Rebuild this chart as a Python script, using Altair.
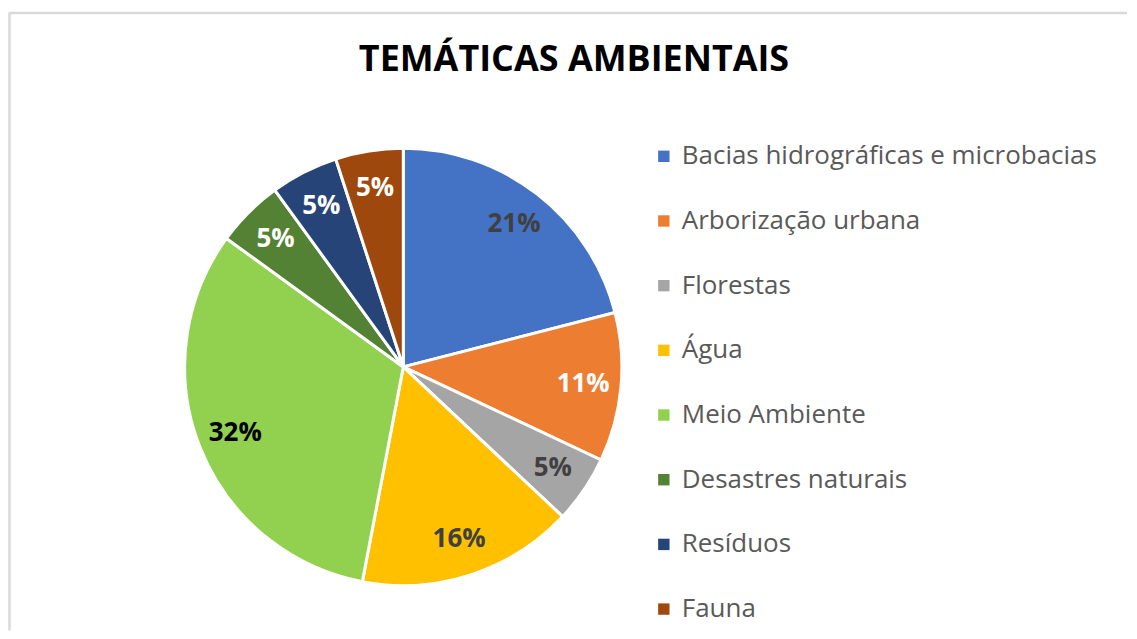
import altair as alt
import pandas as pd

temas = [
    "Bacias hidrográficas e microbacias",
    "Arborização urbana",
    "Florestas",
    "Água",
    "Meio Ambiente",
    "Desastres naturais",
    "Resíduos",
    "Fauna",
]
percentuais = [21, 11, 5, 16, 32, 5, 5, 5]
cores = ["#4472C4", "#ED7D31", "#A5A5A5", "#FFC000", "#92D050", "#548235", "#264478", "#9E480E"]
cores_rotulo = ["#404040", "#FFFFFF", "#404040", "#404040", "#000000", "#FFFFFF", "#FFFFFF", "#FFFFFF"]
titulo = "TEMÁTICAS AMBIENTAIS"

df = pd.DataFrame({"tema": temas, "pct": percentuais, "ordem": list(range(len(temas)))})
df["rotulo"] = df["pct"].astype(str) + "%"

CX, CY = 396, 359

base = alt.Chart(df).encode(
    theta=alt.Theta("pct:Q", stack=True),
    order=alt.Order("ordem:Q"),
    x=alt.value(CX),
    y=alt.value(CY),
)

arcs = base.mark_arc(outerRadius=219, stroke="white", strokeWidth=3).encode(
    color=alt.Color(
        "tema:N",
        scale=alt.Scale(domain=temas, range=cores),
        legend=alt.Legend(
            title=None,
            orient="none",
            legendX=644,
            legendY=135,
            symbolType="square",
            symbolSize=130,
            symbolStrokeWidth=0,
            labelFont="Open Sans",
            labelFontSize=26,
            labelColor="#595959",
            labelLimit=700,
            labelOffset=5,
            rowPadding=38.8,
        ),
    )
)

labels = base.mark_text(radius=181, font="Open Sans", fontWeight="bold", fontSize=26).encode(
    text="rotulo:N",
    color=alt.Color("tema:N", scale=alt.Scale(domain=temas, range=cores_rotulo), legend=None),
)

one = pd.DataFrame({"t": [titulo]})
title = alt.Chart(one).mark_text(
    font="Open Sans", fontWeight="bold", fontSize=36, color="#000000", baseline="alphabetic"
).encode(text="t:N", x=alt.value(567), y=alt.value(63))

frame_left = alt.Chart(one).mark_rule(color="#D9D9D9", strokeWidth=2.5).encode(
    x=alt.value(1.5), y=alt.value(4), y2=alt.value(623)
)
frame_top = alt.Chart(one).mark_rule(color="#D9D9D9", strokeWidth=2.5).encode(
    x=alt.value(1.5), x2=alt.value(1121), y=alt.value(4.5)
)

chart = (
    alt.layer(frame_left, frame_top, arcs, labels, title)
    .resolve_scale(color="independent")
    .properties(width=1121, height=623, padding=0)
    .configure_view(stroke=None)
)

chart.save("out.html", embed_options={"renderer": "svg", "actions": False})
